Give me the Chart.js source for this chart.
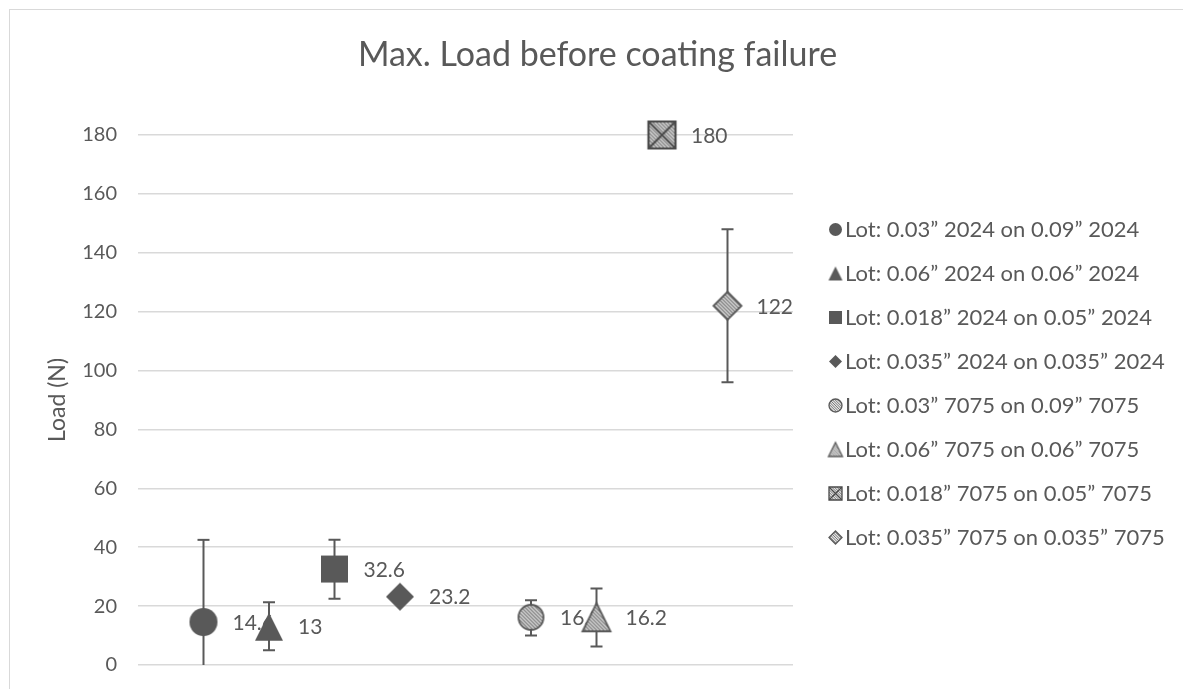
<!DOCTYPE html>
<html>
<head>
<meta charset="utf-8">
<script src="https://cdn.jsdelivr.net/npm/chart.js@4"></script>
<style>
html,body{margin:0;padding:0;background:#fff;overflow:hidden;}
#wrap{position:relative;width:1183px;height:689px;overflow:hidden;}
#frame{position:absolute;left:9px;top:9px;width:1300px;height:800px;border-left:1px solid #d9d9d9;border-top:1px solid #d9d9d9;}
#c{position:absolute;left:0;top:0;}
</style>
</head>
<body>
<div id="wrap"><div id="frame"></div><canvas id="c" width="1183" height="689"></canvas></div>
<script>
// ---- data ----
const chartTitle = 'Max. Load before coating failure';
const yAxisTitle = 'Load (N)';
const seriesNames = [
  'Lot: 0.03\u201d 2024 on 0.09\u201d 2024',
  'Lot: 0.06\u201d 2024 on 0.06\u201d 2024',
  'Lot: 0.018\u201d 2024 on 0.05\u201d 2024',
  'Lot: 0.035\u201d 2024 on 0.035\u201d 2024',
  'Lot: 0.03\u201d 7075 on 0.09\u201d 7075',
  'Lot: 0.06\u201d 7075 on 0.06\u201d 7075',
  'Lot: 0.018\u201d 7075 on 0.05\u201d 7075',
  'Lot: 0.035\u201d 7075 on 0.035\u201d 7075'
];
const xPositions = [1, 2, 3, 4, 6, 7, 8, 9];
const loads = [14.6, 13, 32.6, 23.2, 16.2, 16.2, 180, 122];
const errLow = [0, 5, 22.5, null, 10, 6.3, null, 96];
const errHigh = [42.5, 21.3, 42.5, null, 22, 26, null, 148];
const yTicks = [0, 20, 40, 60, 80, 100, 120, 140, 160, 180];

// ---- styles ----
const FONT = 'Lato';
const GREY = '#595959';
const shapes = ['circle', 'triangle', 'square', 'diamond', 'circle', 'triangle', 'square', 'diamond'];
const hatched = [false, false, false, false, true, true, true, true];
const crossed = [false, false, false, false, false, false, true, false];
const chartSizes = [28, 28, 27, 28, 25, 28, 27, 28];
const legendSizes = [13, 14, 13, 13, 13, 14, 13, 13];

function makeMarker(shape, size, hatch, cross, shiftX) {
  const pad = 3;
  const half = size / 2 + pad + Math.abs(shiftX);
  const c = document.createElement('canvas');
  c.width = Math.ceil(half * 2);
  c.height = Math.ceil(size + pad * 2);
  const g = c.getContext('2d');
  const cx = c.width / 2 + shiftX, cy = c.height / 2, h = size / 2;
  function path() {
    g.beginPath();
    if (shape === 'circle') g.arc(cx, cy, h, 0, Math.PI * 2);
    else if (shape === 'triangle') { g.moveTo(cx, cy - h); g.lineTo(cx + h, cy + h); g.lineTo(cx - h, cy + h); g.closePath(); }
    else if (shape === 'square') g.rect(cx - h, cy - h, size, size);
    else { g.moveTo(cx, cy - h); g.lineTo(cx + h, cy); g.lineTo(cx, cy + h); g.lineTo(cx - h, cy); g.closePath(); }
  }
  path();
  if (!hatch) {
    g.fillStyle = GREY; g.fill();
  } else {
    g.fillStyle = '#e2e2e2'; g.fill();
    g.save(); path(); g.clip();
    g.strokeStyle = '#7a7a7a'; g.lineWidth = size > 20 ? 1.3 : 1;
    const step = size > 20 ? 3.6 : 2.6;
    for (let k = -size * 2; k < size * 2; k += step) {
      g.beginPath(); g.moveTo(cx - h + k, cy - h); g.lineTo(cx - h + k + size, cy + h); g.stroke();
    }
    if (cross) {
      g.strokeStyle = '#4a4a4a'; g.lineWidth = size > 20 ? 2 : 1.3;
      g.beginPath(); g.moveTo(cx - h, cy - h); g.lineTo(cx + h, cy + h);
      g.moveTo(cx + h, cy - h); g.lineTo(cx - h, cy + h); g.stroke();
    }
    g.restore();
    path();
    g.strokeStyle = cross ? '#4a4a4a' : GREY; g.lineWidth = size > 20 ? (cross ? 2.2 : 1.8) : 1.3; g.stroke();
  }
  return c;
}

const chartMarkers = shapes.map((s, i) => makeMarker(s, chartSizes[i], hatched[i], crossed[i], 0));
const legendMarkers = shapes.map((s, i) => makeMarker(s, legendSizes[i], hatched[i], crossed[i], 11));

const datasets = seriesNames.map((name, i) => ({
  label: name,
  data: [{x: xPositions[i], y: loads[i]}],
  pointStyle: chartMarkers[i],
  pointRadius: 14,
  pointHoverRadius: 14,
  showLine: false,
  clip: false,
  backgroundColor: GREY,
  borderColor: GREY
}));

const LEG_W = 390;
const fixPlugin = {
  id: 'fixLayout',
  beforeUpdate(chart) {
    const lg = chart.legend;
    if (lg && !lg._fixedFit) {
      const orig = lg.fit.bind(lg);
      lg.fit = function () { orig(); this.width = LEG_W; };
      lg._fixedFit = true;
    }
  },
  afterLayout(chart) {
    const lg = chart.legend;
    if (lg) { lg.top += 51; lg.bottom += 51; }
  }
};

const errorPlugin = {
  id: 'errorBarsAndLabels',
  beforeDatasetsDraw(chart) {
    const ctx = chart.ctx, xs = chart.scales.x, ys = chart.scales.y;
    ctx.save();
    ctx.strokeStyle = GREY; ctx.lineWidth = 2;
    loads.forEach((v, i) => {
      if (errLow[i] == null) return;
      const x = xs.getPixelForValue(xPositions[i]);
      const y1 = ys.getPixelForValue(errLow[i]);
      const y2 = ys.getPixelForValue(errHigh[i]);
      ctx.beginPath(); ctx.moveTo(x, y1); ctx.lineTo(x, y2); ctx.stroke();
      ctx.beginPath();
      ctx.moveTo(x - 6, y2); ctx.lineTo(x + 6, y2);
      if (errLow[i] > ys.min) { ctx.moveTo(x - 6, y1); ctx.lineTo(x + 6, y1); }
      ctx.stroke();
    });
    ctx.fillStyle = GREY; ctx.font = '21px ' + FONT;
    ctx.textAlign = 'left'; ctx.textBaseline = 'middle';
    loads.forEach((v, i) => {
      const x = xs.getPixelForValue(xPositions[i]);
      const y = ys.getPixelForValue(v);
      ctx.fillText(String(v), x + 29, y + 1);
    });
    ctx.restore();
  }
};

new Chart(document.getElementById('c'), {
  type: 'scatter',
  data: { datasets },
  plugins: [fixPlugin, errorPlugin],
  options: {
    responsive: false,
    animation: false,
    devicePixelRatio: 1,
    layout: { autoPadding: false, padding: { left: 12, right: 0, top: 0, bottom: 24 } },
    plugins: {
      tooltip: { enabled: false },
      title: {
        display: true, text: chartTitle, color: GREY,
        font: { family: FONT, size: 34, weight: 'normal' },
        padding: { top: 34.6, bottom: 59.6 }
      },
      legend: {
        position: 'right',
        labels: {
          usePointStyle: true, boxWidth: 19, boxHeight: 19, padding: 22,
          color: GREY, font: { family: FONT, size: 22 },
          generateLabels: (chart) => chart.data.datasets.map((ds, i) => ({
            text: ds.label, pointStyle: legendMarkers[i], fillStyle: GREY,
            strokeStyle: GREY, lineWidth: 0, hidden: false, datasetIndex: i, fontColor: GREY
          }))
        }
      }
    },
    scales: {
      x: { type: 'linear', min: 0, max: 10, display: false },
      y: {
        min: 0, max: 180,
        afterBuildTicks: (s) => { s.ticks = yTicks.map(v => ({ value: v })); },
        afterFit: (s) => { s.width = 126; },
        border: { display: false },
        grid: { color: '#d9d9d9', lineWidth: 1.5, drawTicks: true, tickLength: 18, tickColor: 'rgba(0,0,0,0)' },
        ticks: { color: GREY, padding: 3, font: { family: FONT, size: 20 } },
        title: { display: true, text: yAxisTitle, color: GREY, font: { family: FONT, size: 23 }, padding: { top: 32, bottom: 0 } }
      }
    }
  }
});
</script>
</body>
</html>
